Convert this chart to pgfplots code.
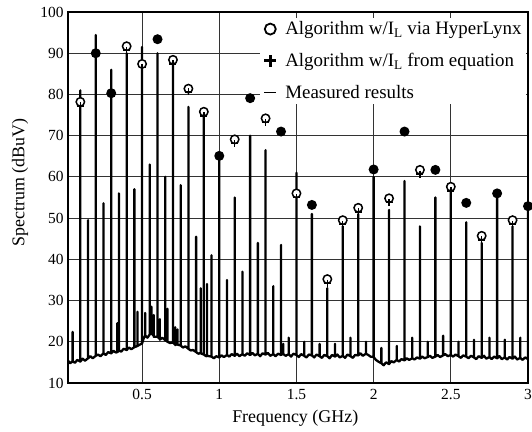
\documentclass[border=0pt]{standalone}
\usepackage{pgfplots}
\usepackage{pgfplotstable}
\pgfplotsset{compat=1.18}
\usepackage{fontspec}
\setmainfont{Liberation Serif}

% predicted levels at the 100 MHz harmonics
\pgfplotstableread{
f hl
0.1 78.2
0.4 91.7
0.5 87.4
0.7 88.4
0.8 81.4
0.9 75.8
1.1 69.1
1.3 74.2
1.5 56.0
1.7 35.2
1.8 49.5
1.9 52.5
2.1 54.8
2.3 61.7
2.5 57.6
2.7 45.7
2.9 49.5
}\hyperopen
\pgfplotstableread{
f hl
0.2 90.0
0.3 80.3
0.6 93.4
1.0 65.1
1.2 79.1
1.4 71.0
1.6 53.2
2.0 61.8
2.2 71.0
2.4 61.7
2.6 53.7
2.8 56.0
3.0 52.9
}\hyperfilled
\pgfplotstableread{
f eq
0.1 77.2
0.2 90.0
0.3 80.3
0.4 90.7
0.5 86.6
0.6 93.4
0.7 87.4
0.8 80.6
0.9 74.8
1.0 65.1
1.1 68.1
1.2 79.1
1.3 73.2
1.4 71.0
1.5 55.0
1.6 53.2
1.7 34.2
1.8 48.5
1.9 51.5
2.0 61.8
2.1 53.8
2.2 71.0
2.3 60.7
2.4 61.7
2.5 56.6
2.6 53.7
2.7 44.7
2.8 56.0
2.9 48.5
3.0 52.9
}\equation

\begin{document}
\begin{tikzpicture}
\path[use as bounding box] (-68bp,-49bp) rectangle (464bp,383bp);
\begin{axis}[
    at={(0,0)}, anchor=south west,
    scale only axis,
    width=460bp, height=371bp,
    xmin=0.02, xmax=3,
    ymin=10, ymax=100,
    xtick={0.5,1,1.5,2,2.5,3},
    ytick={10,20,...,100},
    grid=major,
    major grid style={black!80, line width=0.9bp},
    axis line style={line width=1.3bp},
    major tick length=0pt,
    clip mode=individual,
    /pgf/number format/assume math mode=true,
    ticklabel style={font=\fontsize{15.5}{15.5}\selectfont},
    xticklabel style={yshift=-3bp},
    yticklabel style={xshift=-1bp},
    xlabel={Frequency (GHz)},
    ylabel={Spectrum (dBuV)},
    every axis x label/.style={at={(axis description cs:0.494,-0.096)}, anchor=center,
        font=\fontsize{18}{18}\selectfont},
    every axis y label/.style={at={(axis description cs:-0.104,0.54)}, anchor=center, rotate=90,
        font=\fontsize{18}{18}\selectfont},
    legend style={at={(axis description cs:0.995,0.985)}, anchor=north east,
        draw=none, fill=white, font=\fontsize{19}{19}\selectfont,
        row sep=13bp, inner sep=2bp},
    legend cell align=left,
]
% measured spectrum
\addplot[black, line width=2.3bp, line join=round, forget plot] coordinates {
(0.02,15.4) (0.035,14.8)
(0.05,15.3) (0.05,22.4) (0.05,15.3) (0.065,14.9) (0.08,15.6)
(0.1,15.2) (0.1,81) (0.1,15.2) (0.115,15.9) (0.13,15.4)
(0.15,16) (0.15,49.5) (0.15,16) (0.165,16.5) (0.18,16)
(0.2,16.6) (0.2,94.4) (0.2,16.6) (0.215,16.9) (0.23,16.5)
(0.25,17.2) (0.25,53.6) (0.25,17.2) (0.265,16.8) (0.28,17.5)
(0.3,17.2) (0.3,86) (0.3,17.2) (0.315,17.8) (0.33,17.4)
(0.34,17.5) (0.34,24.5) (0.34,17.5)
(0.35,17.9) (0.35,56) (0.35,17.9) (0.365,17.6) (0.38,18.3)
(0.4,18) (0.4,90) (0.4,18) (0.415,18.6) (0.43,18.2)
(0.45,18.7) (0.45,57) (0.45,18.7) (0.465,18.9)
(0.47,19) (0.47,27.3) (0.47,19) (0.485,19.3)
(0.5,19.6) (0.5,91.5) (0.5,19.6) (0.51,20.8)
(0.52,21.5) (0.52,27) (0.52,21.5) (0.535,21)
(0.55,21.8) (0.55,63) (0.55,21.8)
(0.56,22.5) (0.56,28.5) (0.56,22)
(0.575,21.5) (0.575,26.5) (0.575,21.2)
(0.6,21.2) (0.6,90) (0.6,21.2)
(0.615,20.7) (0.615,25.5) (0.615,20.5) (0.63,21)
(0.65,20.4) (0.65,60) (0.65,20.4)
(0.665,20) (0.665,28) (0.665,20) (0.68,19.7)
(0.7,19.8) (0.7,88) (0.7,19.8)
(0.715,19.3) (0.715,23.5) (0.715,19.2)
(0.73,19.5) (0.73,23) (0.73,19.3)
(0.75,19.1) (0.75,58) (0.75,19.1) (0.765,18.6) (0.78,18.9)
(0.8,18.3) (0.8,77) (0.8,18.3) (0.815,17.9) (0.83,18)
(0.85,17.5) (0.85,45.5) (0.85,17.5) (0.865,17.1)
(0.88,17.3) (0.88,33) (0.88,17.2)
(0.9,16.9) (0.9,75) (0.9,16.9) (0.915,16.5)
(0.92,16.8) (0.92,34) (0.92,16.6)
(0.95,16.4) (0.95,41) (0.95,16.4) (0.965,16) (0.98,16.5)
(1.0,16.2) (1.0,65) (1.0,16.2) (1.015,16.7) (1.03,16.3)
(1.05,16.8) (1.05,35) (1.05,16.8) (1.065,16.4) (1.08,17)
(1.1,16.6) (1.1,55) (1.1,16.6) (1.115,17.1) (1.13,16.5)
(1.15,17) (1.15,37) (1.15,17) (1.165,16.6) (1.18,17.2)
(1.2,16.8) (1.2,70) (1.2,16.8) (1.215,17.3) (1.23,16.7)
(1.25,17.1) (1.25,44) (1.25,17.1) (1.265,16.5) (1.28,17.2)
(1.3,16.9) (1.3,66.5) (1.3,16.9) (1.315,17.3) (1.33,16.6)
(1.35,17) (1.35,33.5) (1.35,17) (1.365,16.5) (1.38,17.1)
(1.4,16.8) (1.4,43.5) (1.4,16.8)
(1.415,17.2) (1.415,19.5) (1.415,17) (1.43,16.6)
(1.45,17) (1.45,21) (1.45,17) (1.465,16.4) (1.48,17.1)
(1.5,16.8) (1.5,61) (1.5,16.8) (1.515,16.3) (1.53,17)
(1.55,16.6) (1.55,20) (1.55,16.6) (1.565,16.2) (1.58,16.9)
(1.6,16.7) (1.6,51) (1.6,16.7) (1.615,16.2) (1.63,16.9)
(1.65,16.5) (1.65,19.5) (1.65,16.5) (1.665,16.1) (1.68,16.8)
(1.7,16.5) (1.7,33) (1.7,16.5) (1.715,16) (1.73,16.8)
(1.75,16.4) (1.75,19.5) (1.75,16.4) (1.765,16.9) (1.78,16.2)
(1.8,16.6) (1.8,48) (1.8,16.6) (1.815,16.1) (1.83,16.9)
(1.85,16.5) (1.85,21) (1.85,16.5) (1.865,16.1) (1.88,16.8)
(1.9,16.7) (1.9,51) (1.9,16.7) (1.915,17.2) (1.93,16.6)
(1.95,17.1) (1.95,20) (1.95,17.1) (1.965,16.8) (1.98,16.4)
(2.0,16.3) (2.0,60) (2.0,16.3) (2.015,15.6) (2.03,15.2)
(2.05,14.8) (2.05,18.5) (2.05,14.8) (2.065,14.3) (2.08,15)
(2.1,14.6) (2.1,52) (2.1,14.6) (2.115,15.3) (2.13,15)
(2.15,15.6) (2.15,19) (2.15,15.6) (2.165,15.2) (2.18,15.8)
(2.2,15.5) (2.2,59) (2.2,15.5) (2.215,16) (2.23,15.6)
(2.25,16) (2.25,21) (2.25,16) (2.265,15.7) (2.28,16.2)
(2.3,15.9) (2.3,48) (2.3,15.9) (2.315,16.4) (2.33,16)
(2.35,16.3) (2.35,20) (2.35,16.3) (2.365,16.6) (2.38,16.1)
(2.4,16.4) (2.4,55) (2.4,16.4) (2.415,16.8) (2.43,16.3)
(2.45,16.7) (2.45,21.5) (2.45,16.7) (2.465,17) (2.48,16.5)
(2.5,16.8) (2.5,57) (2.5,16.8) (2.515,16.4) (2.53,16.9)
(2.55,16.5) (2.55,20) (2.55,16.5) (2.565,16.1) (2.58,16.7)
(2.6,16.4) (2.6,49) (2.6,16.4) (2.615,16) (2.63,16.6)
(2.65,16.2) (2.65,20.5) (2.65,16.2) (2.665,15.8) (2.68,16.5)
(2.7,16.1) (2.7,44) (2.7,16.1) (2.715,16.6) (2.73,15.9)
(2.75,16.3) (2.75,21) (2.75,16.3) (2.765,15.8) (2.78,16.4)
(2.8,16) (2.8,55) (2.8,16) (2.815,16.5) (2.83,15.8)
(2.85,16.2) (2.85,20.5) (2.85,16.2) (2.865,15.7) (2.88,16.3)
(2.9,15.9) (2.9,48) (2.9,15.9) (2.915,16.4) (2.93,15.7)
(2.95,16.1) (2.95,21) (2.95,16.1) (2.965,15.6) (2.98,16.2)
(3.0,15.8) (3.0,52) (3.0,15.8)
};
% HyperLynx
\addplot[only marks, mark=*, mark size=4.2bp,
    mark options={draw=black, fill=white, line width=1.5bp},
    legend image code/.code={\path[draw=none] (0cm,0cm) -- (0.3cm+13bp,0cm);
        \draw[line width=1.8bp, fill=white] (0.3cm,0cm) circle (5.5bp);}]
    table[x=f, y=hl] {\hyperopen};
\addlegendentry{Algorithm w/I\textsubscript{L} via HyperLynx}
\addplot[only marks, mark=*, mark size=4.2bp,
    mark options={draw=black, fill=black, line width=1.5bp}, forget plot]
    table[x=f, y=hl] {\hyperfilled};
% equation
\addplot[only marks, mark=+, mark size=3.5bp,
    mark options={draw=black, line width=1.4bp},
    legend image code/.code={\path[draw=none] (0cm,0cm) -- (0.3cm+13bp,0cm);
        \draw[line width=2.6bp] (0.3cm-6bp,0cm) -- (0.3cm+6bp,0cm) (0.3cm,-6bp) -- (0.3cm,6bp);}]
    table[x=f, y=eq] {\equation};
\addlegendentry{Algorithm w/I\textsubscript{L} from equation}
\addlegendimage{legend image code/.code={\path[draw=none] (0cm,0cm) -- (0.3cm+13bp,0cm);
    \draw[line width=1.3bp] (0.3cm-6bp,0cm) -- (0.3cm+6bp,0cm);}}
\addlegendentry{Measured results}
\end{axis}
\end{tikzpicture}
\end{document}
